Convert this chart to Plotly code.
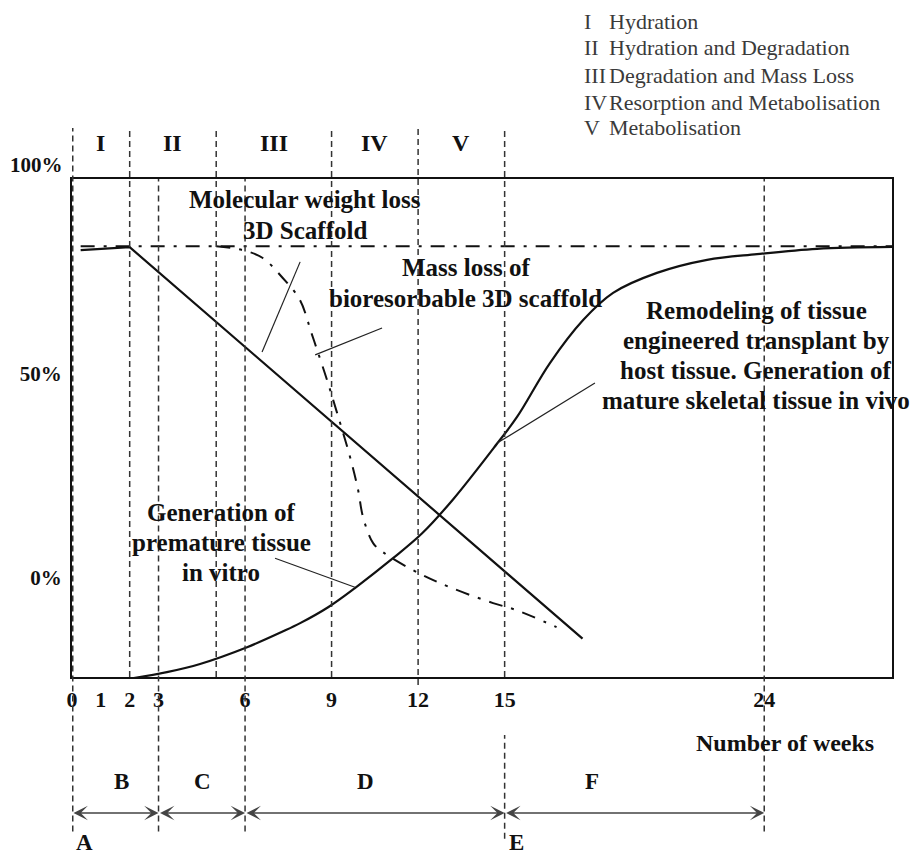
import plotly.graph_objects as go

SERIF = "Liberation Serif, Times New Roman, Times, serif"
INK = "#111111"
GUIDE = "#333333"

# ---- axis ticks -------------------------------------------------------------
week_ticks = [0, 1, 2, 3, 6, 9, 12, 15, 24]
pct_ticks = [0, 50]
pct_tick_text = ["0%", "50%"]
pct_top_text = "100%"

# ---- degradation phases of the scaffold (week boundaries) -------------------
phase_bounds = [0, 2, 5, 9, 12, 15]
phase_numerals = ["I", "II", "III", "IV", "V"]
phase_names = ["Hydration", "Hydration and Degradation", "Degradation and Mass Loss",
               "Resorption and Metabolisation", "Metabolisation"]

# ---- culture / implantation stages (week boundaries) ------------------------
stage_bounds = [0, 3, 6, 15, 24]
stage_labels = ["B", "C", "D", "F"]
milestone_weeks = [0, 15]
milestone_labels = ["A", "E"]

# ---- curves: percentage against number of weeks -----------------------------
initial_weeks = [0.3, 28.43]
initial_pct = [81.2, 81.2]

mw_weeks = [0.3, 2.0, 17.7]
mw_pct = [80.3, 81.0, -14.9]

mass_weeks = [5.0, 5.9, 6.6, 7.3, 7.9, 8.3, 8.5, 8.84, 9.19, 9.64, 9.92, 10.09,
              10.44, 10.78, 12.0, 13.1, 14.6, 15.4, 16.8]
mass_pct = [81.2, 80.3, 78.4, 73.5, 68.1, 60.0, 55.8, 48.5, 40.4, 29.6, 21.5, 14.9,
            8.5, 6.3, 1.2, -2.3, -6.2, -7.9, -12.1]

tissue_weeks = [1.94, 3.29, 4.44, 6.07, 7.32, 7.91, 8.88, 9.81, 11.13, 12.14, 13.21,
                14.74, 15.43, 16.57, 17.73, 18.76, 20.28, 22.02, 23.75, 25.83, 28.43]
tissue_pct = [-24.8, -23.1, -21.1, -17.0, -13.1, -11.1, -7.2, -2.5, 4.8, 10.9, 19.2,
              32.9, 39.4, 52.6, 63.2, 69.8, 74.7, 77.9, 79.3, 80.6, 81.05]

X_RANGE = [0, 28.43]
Y_RANGE = [-24.3, 97.7]
DASHDOT = "14px,9px,3px,9px"


def bold(size, color=INK):
    return dict(family=SERIF, size=size, color=color, weight="bold")


fig = go.Figure()

fig.add_trace(go.Scatter(x=initial_weeks, y=initial_pct, mode="lines",
                         line=dict(color=INK, width=2, dash=DASHDOT)))
fig.add_trace(go.Scatter(x=mw_weeks, y=mw_pct, mode="lines",
                         line=dict(color=INK, width=2.2)))
fig.add_trace(go.Scatter(x=mass_weeks, y=mass_pct, mode="lines",
                         line=dict(color=INK, width=2, dash=DASHDOT, shape="spline")))
fig.add_trace(go.Scatter(x=tissue_weeks, y=tissue_pct, mode="lines",
                         line=dict(color=INK, width=2.2, shape="spline")))

shapes = []
annotations = []

# vertical dashed guides: phase limits rise above the frame,
# stage limits run down to the time-line arrows
TOP_OUT, BOTTOM_OUT = 1.1024, -0.31
guide_weeks = sorted(set(phase_bounds) | set(stage_bounds))
for w in guide_weeks:
    top = TOP_OUT if w in phase_bounds else 1.0
    width = 3 if w == 0 else 1.5
    if w in stage_bounds and w != 15:
        bottom = BOTTOM_OUT
    else:
        bottom = -0.016 if w == 12 else 0.0
    shapes.append(dict(type="line", xref="x", yref="paper", x0=w, x1=w, y0=bottom, y1=top,
                       line=dict(color=GUIDE, width=width, dash="6px,4px")))
    if w == 15:
        shapes.append(dict(type="line", xref="x", yref="paper", x0=w, x1=w,
                           y0=BOTTOM_OUT - 0.015, y1=-0.1165,
                           line=dict(color=GUIDE, width=width, dash="6px,4px")))

# phase numerals above the frame
for i, num in enumerate(phase_numerals):
    mid = (phase_bounds[i] + phase_bounds[i + 1]) / 2
    annotations.append(dict(x=mid, y=1.0723, xref="x", yref="paper", text=num,
                            xanchor="center", yanchor="middle",
                            showarrow=False, font=bold(24)))

# phase key, top right
key_rows = [1.3153, 1.2631, 1.2088, 1.1546, 1.1044]
key_font = dict(family=SERIF, size=22, color="#3a3a3a")
for num, name, yy in zip(phase_numerals, phase_names, key_rows):
    annotations.append(dict(x=0.622, y=yy, xref="paper", yref="paper", text=num,
                            xanchor="left", yanchor="middle", showarrow=False, font=key_font))
    annotations.append(dict(x=0.6524, y=yy, xref="paper", yref="paper", text=name,
                            xanchor="left", yanchor="middle", showarrow=False, font=key_font))

# top percentage label sits above the frame
annotations.append(dict(x=0, y=1.028, xref="paper", yref="paper", text=pct_top_text,
                        xanchor="right", yanchor="middle", xshift=-7,
                        showarrow=False, font=bold(21)))


def text_block(lines, x, y, step=30, size=25):
    for k, line in enumerate(lines):
        annotations.append(dict(x=x, y=y, xref="x", yref="y", text=line, yshift=-k * step,
                                xanchor="center", yanchor="middle",
                                showarrow=False, font=bold(size)))


text_block(["Molecular weight loss", "3D Scaffold"], 8.08, 92.6, step=31)
text_block(["Mass loss of", "bioresorbable 3D scaffold"], 13.66, 75.9, step=31)
text_block(["Remodeling of tissue", "engineered transplant by",
            "host tissue. Generation of", "mature skeletal tissue in vivo"], 23.72, 65.6)
text_block(["Generation of", "premature tissue", "in vitro"], 5.17, 16.1)

# leader lines from labels to their curves
leaders = [((7.91, 77.4), (6.59, 55.3)),
           ((10.75, 61.2), (8.43, 54.6)),
           ((18.13, 47.7), (14.74, 33.0)),
           ((7.04, 4.8), (9.81, -2.3))]
for (xa, ya), (xb, yb) in leaders:
    shapes.append(dict(type="line", xref="x", yref="y", x0=xa, y0=ya, x1=xb, y1=yb,
                       line=dict(color="#222222", width=1.2)))

# axis title
annotations.append(dict(x=24.72, y=-0.1325, xref="x", yref="paper", text="Number of weeks",
                        xanchor="center", yanchor="middle", showarrow=False, font=bold(24)))

# time-line arrows and their stage letters
stage_text_x = [1.73, 4.54, 10.16, 18.03]
for i, lab in enumerate(stage_labels):
    a, b = stage_bounds[i], stage_bounds[i + 1]
    annotations.append(dict(x=b, y=-0.273, xref="x", yref="paper", ax=a, ay=0,
                            axref="x", ayref="pixel", text="", showarrow=True,
                            arrowhead=3, startarrowhead=3, arrowside="end+start",
                            arrowsize=1.6, startarrowsize=1.6, arrowwidth=1.5,
                            arrowcolor="#444444", standoff=0, startstandoff=0))
    annotations.append(dict(x=stage_text_x[i], y=-0.2108, xref="x", yref="paper", text=lab,
                            xanchor="center", yanchor="middle",
                            showarrow=False, font=bold(23)))

for w, lab in zip(milestone_weeks, milestone_labels):
    annotations.append(dict(x=w, y=-0.3333, xref="x", yref="paper", text=lab,
                            xanchor="left", yanchor="middle", xshift=2,
                            showarrow=False, font=bold(23)))

fig.update_layout(
    width=919, height=858,
    margin=dict(l=72, r=27, t=179, b=181),
    paper_bgcolor="white", plot_bgcolor="white",
    showlegend=False,
    shapes=shapes, annotations=annotations,
    xaxis=dict(range=X_RANGE, tickvals=week_ticks, ticktext=[str(w) for w in week_ticks],
               showline=True, mirror=True, linecolor=INK, linewidth=2,
               showgrid=False, zeroline=False, ticks="", tickfont=bold(22),
               ticklabelstandoff=2),
    yaxis=dict(range=Y_RANGE, tickvals=pct_ticks, ticktext=pct_tick_text,
               showline=True, mirror=True, linecolor=INK, linewidth=2,
               showgrid=False, zeroline=False, ticks="", tickfont=bold(21),
               ticklabelstandoff=4),
)

fig.write_html("out.html", config={"displayModeBar": False})
